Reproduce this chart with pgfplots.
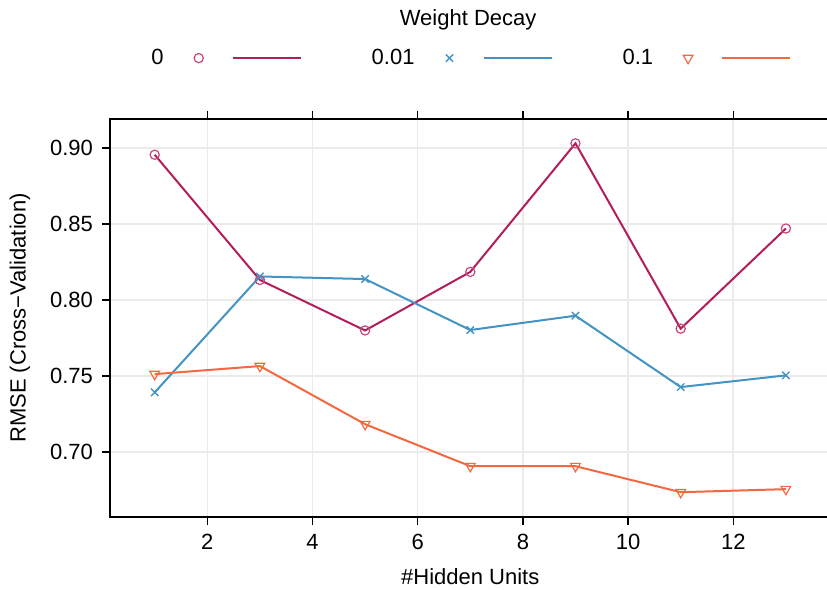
\documentclass[border=0pt]{standalone}
\usepackage{pgfplots}
\pgfplotsset{compat=1.18}
\usepackage{fontspec}
\setmainfont{Liberation Sans}
\definecolor{cA}{RGB}{176,30,92}
\definecolor{cAm}{RGB}{200,70,125}
\definecolor{cB}{RGB}{67,147,195}
\definecolor{cC}{RGB}{244,104,64}
\definecolor{gridc}{RGB}{235,235,235}
\begin{document}
\begin{tikzpicture}
\useasboundingbox (-55pt,-36.5pt) rectangle (358.5pt,258.5pt);
\begin{axis}[
  scale only axis,
  width=360.3pt, height=199pt,
  xmin=0.15, xmax=13.85,
  ymin=0.6574, ymax=0.919,
  xtick={2,4,6,8,10,12},
  ytick={0.70,0.75,0.80,0.85,0.90},
  yticklabel style={/pgf/number format/fixed, /pgf/number format/fixed zerofill, /pgf/number format/precision=2, xshift=-1pt},
  /pgf/number format/assume math mode=true,
  tick label style={font=\fontsize{11}{13}\selectfont},
  label style={font=\fontsize{11}{13}\selectfont},
  tick align=outside,
  major tick length=4pt,
  tick style={black, line width=0.7pt},
  axis line style={black, line width=0.8pt},
  xmajorgrids, ymajorgrids,
  major grid style={gridc, line width=0.8pt},
  xlabel={\#Hidden Units},
  ylabel={RMSE (Cross\textminus Validation)},
  xlabel style={at={(axis description cs:0.5,0)}, anchor=center, yshift=-30pt},
  ylabel style={at={(axis description cs:0,0.5)}, anchor=center, yshift=45pt},
  xticklabel style={yshift=-1pt},
  legend columns=3,
  legend plot pos=right,
  legend style={at={(0.5,1.153)}, anchor=center, draw=none, fill=none,
    font=\fontsize{11}{13}\selectfont,
    /tikz/every even column/.append style={column sep=34pt},
    nodes={inner sep=1pt}},
  legend image code/.code={
    \path (0pt,0pt);
    \draw[#1] plot coordinates {(16pt,0pt)};
    \draw[#1, mark=none] (33pt,0pt) -- (67pt,0pt);
  },
  clip=false,
]
\addplot[cA, line width=1pt, mark=o, mark size=2.3pt, mark options={cAm, line width=0.6pt}]
  coordinates {(1,0.8955) (3,0.8132) (5,0.7800) (7,0.8185) (9,0.9030) (11,0.7812) (13,0.8470)};
\addlegendentry{0}
\addplot[cB, line width=1pt, mark=x, mark size=2.6pt, mark options={cB, line width=0.7pt}]
  coordinates {(1,0.7393) (3,0.8155) (5,0.8138) (7,0.7803) (9,0.7897) (11,0.7428) (13,0.7505)};
\addlegendentry{0.01}
\addplot[cC, line width=1pt, mark=triangle, mark size=2.8pt, mark options={cC, line width=0.6pt, rotate=180}]
  coordinates {(1,0.7513) (3,0.7566) (5,0.7184) (7,0.6908) (9,0.6908) (11,0.6737) (13,0.6757)};
\addlegendentry{0.1}
\pgfplotsinvokeforeach{2,4,6,8,10,12}{
  \draw[black, line width=0.7pt] (axis cs:#1,0.919) -- ++(0pt,4pt);
}
\node[font=\fontsize{11}{13}\selectfont] at (rel axis cs:0.497,1) [yshift=49.5pt] {Weight Decay};
\end{axis}
\end{tikzpicture}
\end{document}
